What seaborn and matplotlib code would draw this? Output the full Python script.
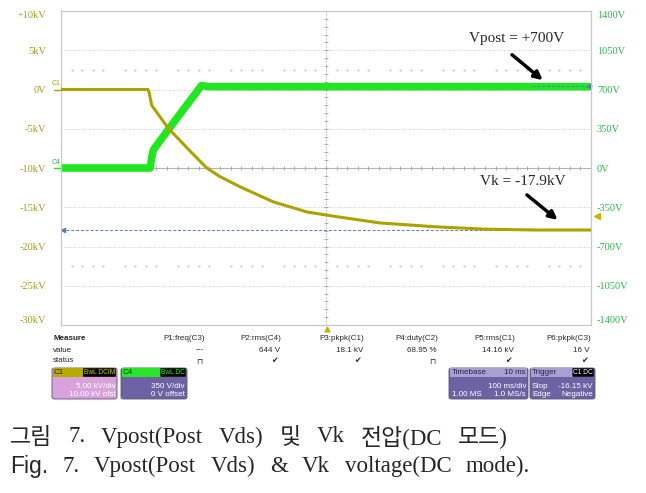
import matplotlib.pyplot as plt
import numpy as np
import seaborn as sns
from matplotlib.patches import Rectangle, FancyBboxPatch

# C1 trace: cathode voltage Vk (kV, left scale), time in ms
vk_t = [0, 164, 166, 169, 171, 187, 202, 240, 275, 300, 338, 400, 464, 520, 602, 709, 803, 900, 1000]
vk_kv = [0, 0, -0.3, -1.3, -2.0, -3.5, -4.9, -7.6, -10.0, -11.1, -12.4, -14.3, -15.6, -16.2,
         -17.0, -17.5, -17.8, -17.9, -17.9]
# C4 trace: Vpost (V, right scale)
vp_t = [0, 168, 171, 174, 202, 265, 280, 1000]
vp_v = [0, 0, 90, 160, 340, 735, 725, 725]

left_ticks = [-30, -25, -20, -15, -10, -5, 0, 5, 10]
left_labels = ["-30kV", "-25kV", "-20kV", "-15kV", "-10kV", "-5kV", "0V", "5kV", "+10kV"]
right_ticks = [-1400, -1050, -700, -350, 0, 350, 700, 1050, 1400]
right_labels = ["-1400V", "-1050V", "-700V", "-350V", "0V", "350V", "700V", "1050V", "1400V"]

vk_final = -17.9
trig_level = -16.15

meas_cols = ["P1:freq(C3)", "P2:rms(C4)", "P3:pkpk(C1)", "P4:duty(C2)", "P5:rms(C1)", "P6:pkpk(C3)"]
meas_vals = ["---", "644 V", "18.1 kV", "68.95 %", "14.16 kV", "16 V"]
meas_stat = ["⊓", "✔", "✔", "⊓", "✔", "✔"]

cap1 = ["그림", "7.", "Vpost(Post", "Vds)", "및", "Vk", "전압(DC", "모드)"]
cap2 = ["Fig.", "7.", "Vpost(Post", "Vds)", "&", "Vk", "voltage(DC", "mode)."]

YEL = "#aba300"
GRN = "#22e622"
LBL_Y = "#a89a1c"
LBL_G = "#2eb34a"
BOX_P = "#6d62a3"

W, H = 646, 493


def fx(px):
    return px / W


def fy(py):
    return 1 - py / H


sns.set_style("white")
plt.rcParams["font.family"] = ["Liberation Sans", "DejaVu Sans"]

fig = plt.figure(figsize=(W / 100, H / 100), dpi=100)
ax = fig.add_axes([fx(61), fy(325), 530 / W, 314 / H])
ax2 = ax.twinx()
ax.set_zorder(2)
ax2.set_zorder(1)
ax.patch.set_visible(False)

# background grid lives on ax2 so the traces sit above it
ax2.set_xlim(0, 1000)
ax2.set_ylim(-1400, 1400)
ax2.set_xticks(np.arange(0, 1001, 100))
ax2.set_yticks(right_ticks, right_labels)
ax2.grid(True, ls=(0, (1, 2)), color="#b8b8b8", lw=0.6)
ax2.axhline(0, color="#b4b4b4", lw=0.8, zorder=1)
ax2.axvline(500, color="#c4c4c4", lw=0.7, ls=(0, (2, 1)), zorder=1)
minor = np.arange(0, 1001, 20)
ax2.plot(minor, np.zeros_like(minor), ls="", marker="|", ms=3, color="#a0a0a0", mew=0.6)
ax2.plot(np.full(41, 500), np.arange(-1400, 1401, 70), ls="", marker="_", ms=3,
         color="#a0a0a0", mew=0.6)
dots = minor[minor % 100 != 0]
for yy in (875, -875):
    ax2.plot(dots, np.full_like(dots, yy), ls="", marker=".", ms=1.0, color="#c0c0c0")

sns.lineplot(x=vp_t, y=vp_v, ax=ax2, color=GRN, lw=5.5, solid_capstyle="butt", zorder=3)
ax2.plot([889, 1000], [731, 731], ls=(0, (3, 2)), color="#5a78c0", lw=0.7, zorder=4)
ax2.plot(996, 731, marker="<", ms=3, color="#5a78c0", zorder=4, clip_on=False)
ax2.tick_params(axis="y", length=0, pad=4.3, labelsize=7.5, labelcolor=LBL_G)
ax2.tick_params(axis="x", length=0, labelbottom=False)

ax.set_xlim(0, 1000)
ax.set_ylim(-30, 10)
ax.set_xticks([])
ax.set_yticks(left_ticks, left_labels)
ax.grid(False)
ax.tick_params(axis="y", length=0, pad=10.8, labelsize=7.5, labelcolor=LBL_Y)

for a in (ax, ax2):
    labels = a.get_yticklabels()
    for t in labels:
        t.set_family("Liberation Serif")
    labels[0].set_va("bottom")
    labels[-1].set_va("top")
    for s in a.spines.values():
        s.set_color("#c8c8c8")
        s.set_linewidth(0.8)

ax.axhline(vk_final, ls=(0, (3, 2)), color="#5a78c0", lw=0.7, zorder=1)
ax.plot(4, vk_final, marker="<", ms=3, color="#5a78c0", clip_on=False)
sns.lineplot(x=vk_t, y=vk_kv, ax=ax, color=YEL, lw=2.2, zorder=3)

# channel / trigger markers
ax.plot(1011, trig_level, marker="<", ms=4, color="#c8b400", clip_on=False)
ax.plot(502, -30.55, marker="^", ms=3.5, color="#c8b400", clip_on=False)
ax.plot([-14, 0], [0, 0], color=YEL, lw=1, clip_on=False)
ax.plot([-14, 0], [-10, -10], color=GRN, lw=1, clip_on=False)
ax.text(-17, 0.75, "C1", fontsize=5, color=YEL, ha="left", va="center")
ax.text(-17, -9.25, "C4", fontsize=5, color=LBL_G, ha="left", va="center")

# annotations
ax.text(860, 6.56, "Vpost = +700V", ha="center", va="center", fontsize=11,
        family="Liberation Serif")
ax.annotate("", xy=(913, 0.96), xytext=(847, 4.65),
            arrowprops=dict(arrowstyle="-|>", lw=2.5, color="k", mutation_scale=12))
ax.text(871, -11.75, "Vk = -17.9kV", ha="center", va="center", fontsize=11,
        family="Liberation Serif")
ax.annotate("", xy=(941, -16.84), xytext=(875, -13.2),
            arrowprops=dict(arrowstyle="-|>", lw=2.5, color="k", mutation_scale=12))

# measurement panel
fs = 5.8
fig.text(fx(53), fy(339), "Measure", fontsize=fs, weight="bold", va="center")
fig.text(fx(53), fy(350), "value", fontsize=fs, va="center")
fig.text(fx(53), fy(361), "status", fontsize=fs, va="center")
col_right = [205, 281, 364, 438, 515, 591]
for xr, c, v, s in zip(col_right, meas_cols, meas_vals, meas_stat):
    fig.text(fx(xr), fy(339), c, fontsize=fs, ha="right", va="center")
    fig.text(fx(xr - 1), fy(350), v, fontsize=fs, ha="right", va="center")
    fig.text(fx(xr - 3), fy(361), s, fontsize=fs, ha="right", va="center",
             family="DejaVu Sans")


def box(x0, x1, head, body, head_h=9):
    y0, y1 = 368, 399
    fig.add_artist(FancyBboxPatch((fx(x0), fy(y1)), fx(x1) - fx(x0), fy(y0) - fy(y1),
                                  boxstyle="round,pad=0,rounding_size=0.004",
                                  transform=fig.transFigure, fc=body, ec="#555570", lw=0.6))
    fig.add_artist(Rectangle((fx(x0) + 0.001, fy(y0 + head_h)), fx(x1) - fx(x0) - 0.002,
                             head_h / H - 0.001, transform=fig.transFigure, fc=head, ec="none"))


def badge(xr, y, txt, col):
    fig.text(fx(xr), fy(y), txt, fontsize=4.8, color=col, ha="right", va="center",
             bbox=dict(boxstyle="round,pad=0.12", fc="black", ec="none"))


box(52, 117, "#b8aa00", "#d8a2dc")
fig.text(fx(54), fy(372.5), "C1", fontsize=fs, color="#222200", va="center")
badge(115, 372.5, "BwL DCIM", "#d8c800")
fig.text(fx(116), fy(386.5), "5.00 kV/div", fontsize=fs, color="white", ha="right", va="center")
fig.text(fx(116), fy(395), "10.00 kV ofst", fontsize=fs, color="white", ha="right", va="center")

box(121, 187, "#28e628", BOX_P)
fig.text(fx(123), fy(372.5), "C4", fontsize=fs, color="#114411", va="center")
badge(185, 372.5, "BwL DC", "#30f030")
fig.text(fx(185), fy(386.5), "350 V/div", fontsize=fs, color="white", ha="right", va="center")
fig.text(fx(185), fy(395), "0 V offset", fontsize=fs, color="white", ha="right", va="center")

box(449, 528, "#a89fd2", BOX_P)
fig.text(fx(452), fy(372.5), "Timebase", fontsize=fs, color="#222244", va="center")
fig.text(fx(526), fy(372.5), "10 ms", fontsize=fs, color="#222244", ha="right", va="center")
fig.text(fx(526), fy(386.5), "100 ms/div", fontsize=fs, color="white", ha="right", va="center")
fig.text(fx(452), fy(395), "1.00 MS", fontsize=fs, color="white", va="center")
fig.text(fx(526), fy(395), "1.0 MS/s", fontsize=fs, color="white", ha="right", va="center")

box(530, 595, "#a89fd2", BOX_P)
fig.text(fx(532), fy(372.5), "Trigger", fontsize=fs, color="#222244", va="center")
badge(593, 372.5, "C1 DC", "white")
fig.text(fx(532), fy(386.5), "Stop", fontsize=fs, color="white", va="center")
fig.text(fx(593), fy(386.5), "-16.15 kV", fontsize=fs, color="white", ha="right", va="center")
fig.text(fx(532), fy(395), "Edge", fontsize=fs, color="white", va="center")
fig.text(fx(593), fy(395), "Negative", fontsize=fs, color="white", ha="right", va="center")


# caption: justified like the printed figure, words spread between x0 and x1
def caption_line(words, y, x0, x1, fams):
    texts = [fig.text(0, fy(y), w, fontsize=16.5, family=f, va="center")
             for w, f in zip(words, fams)]
    r = fig.canvas.get_renderer()
    widths = [t.get_window_extent(r).width for t in texts]
    gap = (x1 - x0 - sum(widths)) / (len(words) - 1)
    x = x0
    for t, w in zip(texts, widths):
        t.set_x(fx(x))
        x += w + gap


SER = ["Liberation Serif", "Noto Sans CJK KR"]
CJK = ["Noto Sans CJK KR", "Liberation Serif"]
caption_line(cap1, 437, 10, 508, [CJK, SER, SER, SER, CJK, SER, SER, SER])
caption_line(cap2, 466, 10, 530, [["Liberation Sans"]] + [SER] * 7)

fig.savefig("out.png", dpi=100)
